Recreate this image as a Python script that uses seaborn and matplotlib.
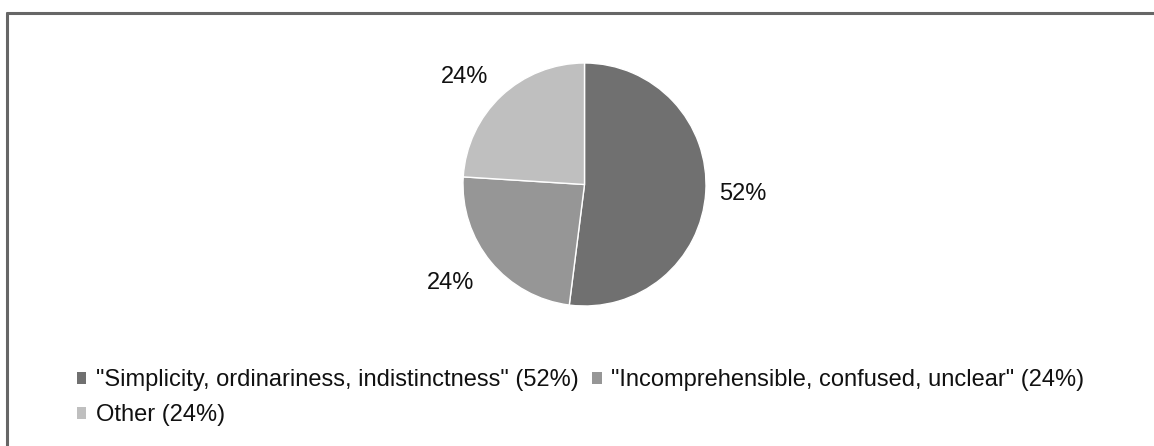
import matplotlib
matplotlib.use("Agg")
import matplotlib.pyplot as plt
from matplotlib.lines import Line2D
from matplotlib.patches import Patch
import seaborn as sns

# Survey answers and their shares (%)
categories = [
    '"Simplicity, ordinariness, indistinctness"',
    '"Incomprehensible, confused, unclear"',
    'Other',
]
shares = [52, 24, 24]
colors = ["#707070", "#969696", "#bfbfbf"]

sns.set_theme(style="white")
plt.rcParams["font.family"] = ["Liberation Sans", "DejaVu Sans"]

W, H = 1154, 446
fig = plt.figure(figsize=(W / 100, H / 100), dpi=100)
fig.patch.set_facecolor("white")

# Pie placed by pixel geometry: centre and radius
cx, cy, r = 584.5, 184.5, 121.5
ax = fig.add_axes([(cx - r) / W, (H - cy - r) / H, 2 * r / W, 2 * r / H])
wedges, _, autotexts = ax.pie(
    shares,
    colors=colors,
    startangle=90,
    counterclock=False,
    autopct=lambda p: f"{p:.0f}%",
    pctdistance=1.32,
    wedgeprops=dict(edgecolor="white", linewidth=1),
    textprops=dict(fontsize=17, color="#111111"),
)
# best-fit style placement of the percentage labels (in radius units)
label_xy = [(1.305, -0.078), (-1.099, -0.811), (-0.984, 0.885)]
for t, (lx, ly) in zip(autotexts, label_xy):
    t.set_position((lx, ly))
    t.set_ha("center")
    t.set_va("center")
ax.set_xlim(-1, 1)
ax.set_ylim(-1, 1)
ax.set_aspect("equal")
ax.axis("off")

# Legend: two rows, first row holds the first two answers
labels = [f"{c} ({v}%)" for c, v in zip(categories, shares)]
handles = [Patch(facecolor=col, edgecolor="none") for col in colors]
order = [0, 2, 1]
fig.legend(
    [handles[i] for i in order],
    [labels[i] for i in order],
    ncol=2,
    loc="upper left",
    bbox_to_anchor=(77 / W, 1 - 369 / H),
    frameon=False,
    fontsize=17,
    handlelength=0.4,
    handleheight=0.4,
    handletextpad=0.4,
    columnspacing=0.58,
    labelspacing=0.55,
    borderaxespad=0,
    borderpad=0,
    labelcolor="#111111",
)

# Outer chart border (top and left edges visible)
fig.add_artist(Line2D([6.5 / W, 1], [1 - 12.5 / H, 1 - 12.5 / H],
                      transform=fig.transFigure, color="#666666", linewidth=2.2))
fig.add_artist(Line2D([6.5 / W, 6.5 / W], [0, 1 - 12.5 / H],
                      transform=fig.transFigure, color="#666666", linewidth=2.2))

fig.savefig("out.png", dpi=100, facecolor="white")
